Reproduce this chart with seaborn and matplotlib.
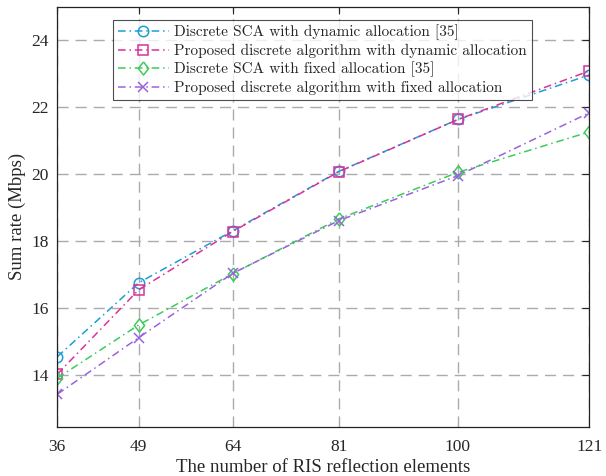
import matplotlib
matplotlib.use("Agg")
import matplotlib.pyplot as plt
import seaborn as sns
import pandas as pd

x_vals = [36, 49, 64, 81, 100, 121]
sca_dynamic = [14.54, 16.75, 18.30, 20.08, 21.63, 22.96]
prop_dynamic = [14.02, 16.54, 18.28, 20.07, 21.63, 23.08]
sca_fixed = [13.90, 15.49, 17.02, 18.66, 20.05, 21.26]
prop_fixed = [13.42, 15.11, 17.03, 18.61, 19.95, 21.83]

labels = [
    "Discrete SCA with dynamic allocation [35]",
    "Proposed discrete algorithm with dynamic allocation",
    "Discrete SCA with fixed allocation [35]",
    "Proposed discrete algorithm with fixed allocation",
]
colors = ["#1a9ed6", "#d9329a", "#3ccb5c", "#9a62dc"]
diamond = [(0, 1), (0.78, 0), (0, -1), (-0.78, 0), (0, 1)]
markers = ["o", "s", diamond, "x"]
msizes = [7.5, 6.5, 9.5, 6.5]

series = [sca_dynamic, prop_dynamic, sca_fixed, prop_fixed]
frames = []
for lab, vals in zip(labels, series):
    frames.append(pd.DataFrame({"N": x_vals, "rate": vals, "alg": lab}))
df = pd.concat(frames, ignore_index=True)

sns.set_style("white")
plt.rcParams["font.family"] = ["Liberation Serif", "DejaVu Serif"]

fig = plt.figure(figsize=(6.06, 4.76), dpi=100)
ax = fig.add_axes([57.3 / 606, 1 - 426.7 / 476, 532 / 606, 420 / 476])

for lab, c, m, ms in zip(labels, colors, markers, msizes):
    sub = df[df["alg"] == lab]
    sns.lineplot(data=sub, x="N", y="rate", ax=ax, color=c,
                 linestyle=(0, (5, 2.5, 1, 2.5)),
                 linewidth=1.1, marker=m, markersize=ms,
                 markerfacecolor="none", markeredgecolor=c,
                 markeredgewidth=1.1, label=lab)

ax.set_xlim(36, 121)
ax.set_ylim(12.45, 25)
ax.set_xticks(x_vals)
ax.set_yticks([14, 16, 18, 20, 22, 24])
ax.tick_params(direction="in", top=True, right=True, labelsize=12.5, length=5,
               width=0.8, labelcolor="#262626")
ax.tick_params(axis="x", pad=9)
ax.tick_params(axis="y", pad=6)
ax.grid(True, color="#ababab", linestyle=(0, (8, 5)), linewidth=1.0)
for s in ax.spines.values():
    s.set_color("#222222")
    s.set_linewidth(0.9)
    s.set_visible(True)

ax.set_xlabel("The number of RIS reflection elements", fontsize=13.5,
              labelpad=3, color="#262626")
ax.set_ylabel("Sum rate (Mbps)", fontsize=13.5, labelpad=4, color="#262626")

leg = ax.legend(loc="upper left", bbox_to_anchor=(56 / 532, 1 - 13.3 / 420),
                borderaxespad=0,
                prop={"family": "cmr10", "size": 11}, handlelength=3.35,
                frameon=True, fancybox=False, edgecolor="#222222",
                labelspacing=0.24, borderpad=0.3, handletextpad=0.35)
leg.get_frame().set_linewidth(0.8)

fig.savefig("out.png", dpi=100)
